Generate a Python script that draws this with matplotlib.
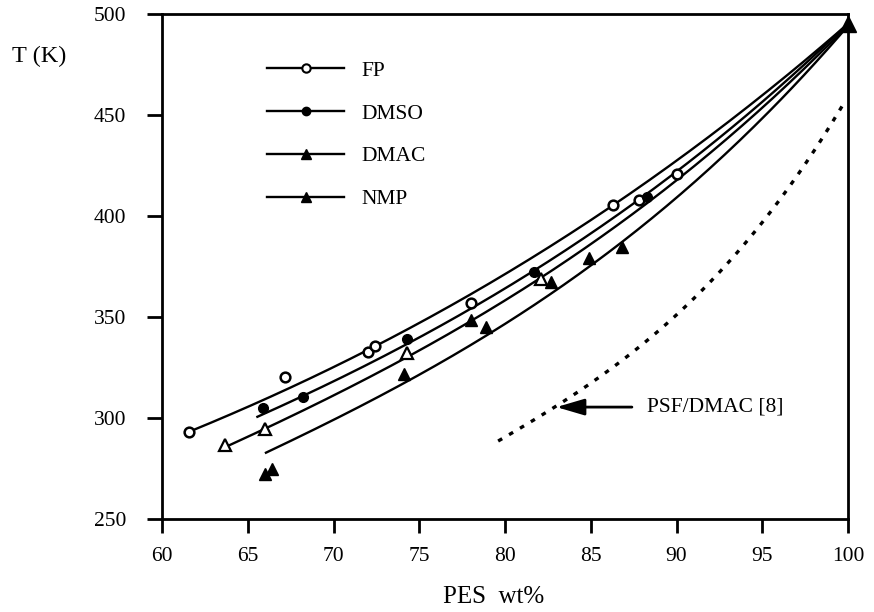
import numpy as np
import matplotlib
matplotlib.use("Agg")
import matplotlib.pyplot as plt
from matplotlib.lines import Line2D

# ---------------- data ----------------
fp_x = [61.6, 67.2, 72.0, 72.4, 78.0, 86.3, 87.8, 90.0]
fp_T = [293.0, 320.3, 332.7, 335.6, 357.0, 405.6, 407.8, 420.8]

dmso_x = [65.9, 68.2, 74.3, 81.7, 88.3]
dmso_T = [305.0, 310.4, 339.0, 372.5, 409.5]

dmac_x = [63.7, 66.0, 74.3, 82.1]
dmac_T = [286.4, 294.4, 332.0, 369.0]

nmp_x = [66.0, 66.4, 74.1, 78.0, 78.9, 82.7, 84.9, 86.8]
nmp_T = [272.2, 274.8, 322.0, 348.6, 345.2, 367.3, 379.0, 384.6]

pure_x = [100.0]
pure_T = [495.0]

# fitted curves
fp_fit_x = [61.5, 65.1, 75.6, 86.3, 93.7, 97.2, 100.0]
fp_fit_T = [292.6, 306.4, 349.5, 405.4, 451.0, 475.2, 495.0]

dmso_fit_x = [65.5, 68.2, 75.6, 81.7, 85.5, 93.7, 97.2, 100.0]
dmso_fit_T = [300.5, 310.4, 343.6, 372.3, 394.0, 447.5, 473.3, 495.0]

dmac_fit_x = [63.7, 65.1, 75.6, 85.5, 93.7, 97.2, 100.0]
dmac_fit_T = [286.1, 290.6, 336.1, 389.6, 443.6, 470.3, 495.0]

nmp_fit_x = [66.0, 75.6, 86.1, 93.7, 97.2, 100.0]
nmp_fit_T = [282.7, 323.8, 383.2, 437.6, 466.3, 495.0]

psf_x = [79.6, 83.1, 90.6, 93.1, 95.0, 98.0, 99.65]
psf_T = [289.1, 305.4, 357.4, 376.7, 398.0, 429.2, 456.0]

x_ticks = [60, 65, 70, 75, 80, 85, 90, 95, 100]
y_ticks = [250, 300, 350, 400, 450, 500]

# ---------------- drawing ----------------
plt.rcParams['font.family'] = ['Liberation Serif', 'DejaVu Serif']
FS = 15.5

fig = plt.figure(figsize=(8.74, 6.12), dpi=100)
W, H = 874, 612
L, R, T, B = 162, 848, 14, 519
ax = fig.add_axes([L / W, 1 - B / H, (R - L) / W, (B - T) / H])


def smooth(xs, ys, deg=3):
    c = np.polyfit(xs, ys, deg)
    xx = np.linspace(min(xs), max(xs), 200)
    return xx, np.polyval(c, xx)


lw = 1.7
for xs, ys in [(fp_fit_x, fp_fit_T), (dmso_fit_x, dmso_fit_T),
               (dmac_fit_x, dmac_fit_T), (nmp_fit_x, nmp_fit_T)]:
    xx, yy = smooth(xs, ys)
    ax.plot(xx, yy, color='black', lw=lw, solid_capstyle='butt')

xx, yy = smooth(psf_x, psf_T)
ax.plot(xx, yy, color='black', lw=2.4, linestyle=(0, (1.4, 2.4)))

ms_c = 7.0
ms_t = 8.5
ax.plot(fp_x, fp_T, 'o', ms=ms_c, mfc='white', mec='black', mew=1.8, ls='none')
ax.plot(dmso_x, dmso_T, 'o', ms=ms_c, mfc='black', mec='black', mew=1.0, ls='none')
ax.plot(dmac_x, dmac_T, '^', ms=ms_t, mfc='white', mec='black', mew=1.6, ls='none')
ax.plot(nmp_x, nmp_T, '^', ms=ms_t, mfc='black', mec='black', mew=1.0, ls='none')
ax.plot(pure_x, pure_T, '^', ms=11, mfc='black', mec='black', ls='none', clip_on=False, zorder=5)

# arrow + annotation
ax.annotate('', xy=(83.0, 305.4), xytext=(87.4, 305.4),
            arrowprops=dict(arrowstyle='-|>,head_length=1.7,head_width=0.5',
                            color='black', lw=2.0, shrinkA=0, shrinkB=0))
ax.text(88.3, 305.4, 'PSF/DMAC [8]', fontsize=FS, va='center', ha='left')

# legend
handles = [
    Line2D([], [], color='black', lw=lw, marker='o', ms=6, mfc='white', mec='black', mew=1.5),
    Line2D([], [], color='black', lw=lw, marker='o', ms=6, mfc='black', mec='black'),
    Line2D([], [], color='black', lw=lw, marker='^', ms=7, mfc='black', mec='black'),
    Line2D([], [], color='black', lw=lw, marker='^', ms=7, mfc='black', mec='black'),
]
ax.legend(handles, ['FP', 'DMSO', 'DMAC', 'NMP'], loc='upper left',
          bbox_to_anchor=(0.153, 0.907), frameon=False, fontsize=FS,
          handlelength=3.6, handletextpad=0.8, labelspacing=1.05,
          borderpad=0, borderaxespad=0)

ax.set_xlim(60, 100)
ax.set_ylim(250, 500)
ax.set_xticks(x_ticks)
ax.set_yticks(y_ticks)
ax.set_xticklabels([str(v) for v in x_ticks], fontsize=FS)
ax.set_yticklabels([str(v) for v in y_ticks], fontsize=FS)
ax.tick_params(axis='y', direction='out', length=11, width=2, pad=15)
ax.tick_params(axis='x', direction='out', length=10, width=2, pad=10)
for s in ax.spines.values():
    s.set_linewidth(2)

fig.text(39 / W, 1 - 56 / H, 'T (K)', fontsize=17.5, ha='center', va='center')
fig.text(494 / W, 1 - 597 / H, 'PES  wt%', fontsize=18, ha='center', va='center')

fig.savefig('out.png', dpi=100)
